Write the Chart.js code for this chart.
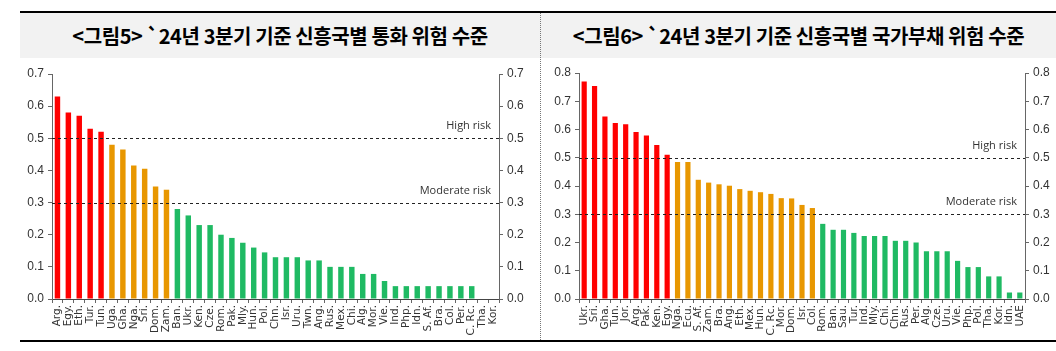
<!DOCTYPE html>
<html>
<head>
<meta charset="utf-8">
<script src="https://cdn.jsdelivr.net/npm/chart.js@4"></script>
<style>
  html, body { margin: 0; padding: 0; background: #fff; }
  body { width: 1056px; height: 351px; position: relative; overflow: hidden; }
  .topline { position: absolute; left: 20px; top: 11px; width: 1036px; height: 2px; background: #000; }
  .botline { position: absolute; left: 20px; top: 340px; width: 1036px; height: 2px; background: #000; }
  .titlebar { position: absolute; top: 13px; height: 45px; background: #f2f2f2; }
  .title { position: absolute; top: 13px; height: 45px; line-height: 45px; text-align: center;
           font-family: "Noto Sans CJK KR", sans-serif; font-weight: 700; font-size: 20px; color: #000;
           letter-spacing: -0.4px; }
  .sep { position: absolute; left: 540px; top: 13px; height: 327px; border-left: 1px dotted #777; }
  .box { position: absolute; top: 60px; height: 280px; }
</style>
</head>
<body>
<div class="topline"></div>
<div class="titlebar" style="left:20px;width:1036px"></div>
<div class="title" style="left:20px;width:520px">&lt;그림5&gt; `24년 3분기 기준 신흥국별 통화 위험 수준</div>
<div class="title" style="left:541px;width:515px">&lt;그림6&gt; `24년 3분기 기준 신흥국별 국가부채 위험 수준</div>
<div class="sep"></div>
<div class="box" style="left:20px;width:510px"><canvas id="fx"></canvas></div>
<div class="box" style="left:541px;width:515px"><canvas id="debt"></canvas></div>
<div class="botline"></div>
<script>
const fxLabels = ['Arg.', 'Egy.', 'Eth.', 'Tur.', 'Tun.', 'Uga.', 'Gha.', 'Nga.', 'Sri.', 'Dom.', 'Zam.',
  'Ban.', 'Ukr.', 'Ken.', 'Cze.', 'Rom.', 'Pak.', 'Mly.', 'Hun.', 'Pol.', 'Chn.', 'Isr.', 'Uru.', 'Twn.',
  'Ang.', 'Rus.', 'Mex.', 'Chi.', 'Alg.', 'Mor.', 'Vie.', 'Ind.', 'Php.', 'Idn.', 'S. Af.', 'Bra.', 'Col.',
  'Per.', 'C. Rc.', 'Tha.', 'Kor.'];
const fxValues = [0.63, 0.58, 0.57, 0.53, 0.52, 0.48, 0.465, 0.415, 0.405, 0.35, 0.34,
  0.28, 0.26, 0.23, 0.23, 0.20, 0.19, 0.175, 0.16, 0.145, 0.13, 0.13, 0.13, 0.12,
  0.12, 0.10, 0.10, 0.10, 0.078, 0.078, 0.056, 0.04, 0.04, 0.04, 0.04, 0.04, 0.04,
  0.04, 0.04, 0, 0];

const debtLabels = ['Ukr.', 'Sri.', 'Gha.', 'Tun.', 'Jor.', 'Arg.', 'Pak.', 'Ken.', 'Egy.', 'Nga.', 'Ecu.',
  'S. Af.', 'Zam.', 'Bra.', 'Ang.', 'Eth.', 'Mex.', 'Hun.', 'C. Rc.', 'Mor.', 'Dom.', 'Isr.', 'Col.',
  'Rom.', 'Ban.', 'Sau.', 'Tur.', 'Ind.', 'Mly.', 'Chi.', 'Chn.', 'Rus.', 'Per.', 'Alg.', 'Cze.', 'Uru.',
  'Vie.', 'Php.', 'Pol.', 'Tha.', 'Kor.', 'Idn.', 'UAE'];
const debtValues = [0.77, 0.754, 0.646, 0.623, 0.619, 0.591, 0.579, 0.545, 0.511, 0.485, 0.485,
  0.422, 0.412, 0.406, 0.401, 0.389, 0.383, 0.378, 0.372, 0.357, 0.356, 0.333, 0.322,
  0.266, 0.245, 0.245, 0.234, 0.223, 0.223, 0.223, 0.206, 0.206, 0.2, 0.169, 0.169, 0.169,
  0.135, 0.113, 0.113, 0.08, 0.08, 0.023, 0.023];

const riskLevels = [0.5, 0.3];
const riskNames = ['High risk', 'Moderate risk'];

const RED = '#FF0000', ORANGE = '#E89700', GREEN = '#1FBA63';
const colorFor = (v) => v >= 0.5 ? RED : v >= 0.3 ? ORANGE : GREEN;

const riskLines = {
  id: 'riskLines',
  afterDatasetsDraw(chart) {
    const { ctx, chartArea: a, scales } = chart;
    ctx.save();
    riskLevels.forEach((lv, k) => {
      const y = Math.round(scales.y.getPixelForValue(lv)) + 0.5;
      ctx.strokeStyle = '#222';
      ctx.lineWidth = 1.2;
      ctx.setLineDash([3, 3]);
      ctx.beginPath();
      ctx.moveTo(a.left, y);
      ctx.lineTo(a.right, y);
      ctx.stroke();
      ctx.setLineDash([]);
      ctx.fillStyle = '#333';
      ctx.font = '11px "Open Sans", sans-serif';
      ctx.textAlign = 'right';
      ctx.textBaseline = 'bottom';
      ctx.fillText(riskNames[k], a.right - 8, y - 7);
    });
    ctx.restore();
  },
};

function makeChart(id, labels, values, yMax, leftW, topPad) {
  const tickFont = { family: '"Liberation Sans Narrow", "Liberation Sans", sans-serif', size: 12 };
  const yAxis = (pos, w) => ({
    position: pos,
    min: 0,
    max: yMax,
    afterFit: (s) => { s.width = w; },
    grid: { drawOnChartArea: false, tickLength: 4, color: '#666' },
    border: { color: '#666' },
    ticks: { stepSize: 0.1, padding: 4, color: '#333', font: tickFont, callback: (v) => v.toFixed(1) },
  });
  return new Chart(document.getElementById(id), {
    type: 'bar',
    data: {
      labels,
      datasets: [{
        data: values,
        backgroundColor: values.map(colorFor),
        barPercentage: 0.5,
        categoryPercentage: 1,
      }],
    },
    options: {
      responsive: true,
      maintainAspectRatio: false,
      animation: false,
      layout: { padding: { top: topPad } },
      plugins: { legend: { display: false }, tooltip: { enabled: false } },
      scales: {
        x: {
          afterFit: (s) => { s.height = 41; },
          grid: { drawOnChartArea: false, tickLength: 4, color: '#666', offset: true },
          border: { color: '#444' },
          ticks: {
            autoSkip: false, maxRotation: 90, minRotation: 90, padding: 2, color: '#333',
            font: { family: '"DejaVu Sans", sans-serif', size: 10.5 },
          },
        },
        y: yAxis('left', leftW),
        y2: yAxis('right', 31),
      },
    },
    plugins: [riskLines],
  });
}

makeChart('fx', fxLabels, fxValues, 0.7, 32, 14);
makeChart('debt', debtLabels, debtValues, 0.8, 38, 13);
</script>
</body>
</html>
